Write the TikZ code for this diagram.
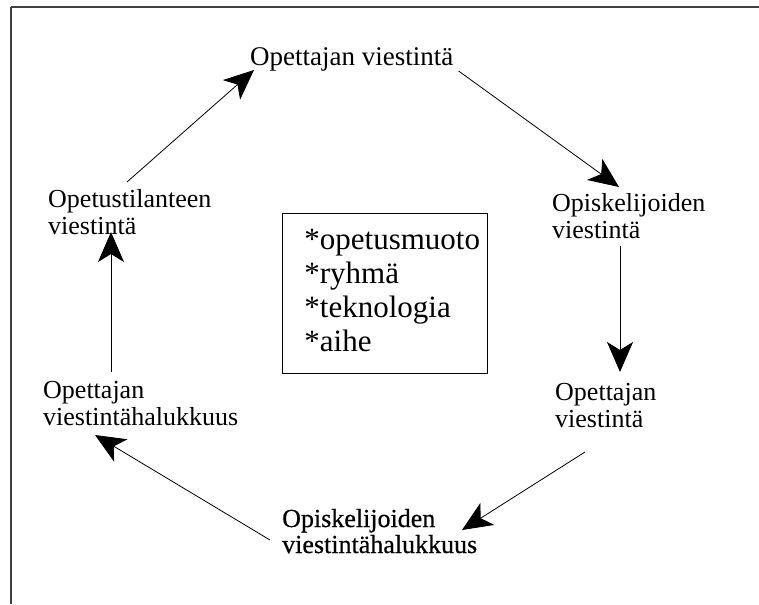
\documentclass[tikz,border=0pt]{standalone}
\usepackage{fontspec}
\setmainfont{Liberation Serif}
\newfontfamily\heavyserif[FakeBold=0.6]{Liberation Serif}
\usetikzlibrary{arrows.meta,calc}

\tikzset{
  lbl/.style={anchor=base west, inner sep=0pt, font=\fontsize{26}{27}\selectfont},
  conn/.style={line width=0.8pt, -{Stealth[length=30pt,width=26pt,inset=8pt]}},
  frameline/.style={line width=2pt, draw=black!75},
  listbox/.style={draw, line width=0.8pt, anchor=north west, inner xsep=0pt, inner ysep=12pt,
                  font=\fontsize{31}{34}\selectfont},
}
\newcommand{\twolines}[2]{\begin{tabular}[t]{@{}l@{}}#1\\#2\end{tabular}}

\begin{document}
\begin{tikzpicture}[x=1pt, y=-1pt]
  \useasboundingbox (0,0) rectangle (759,604);

  % open frame: top and left edges only
  \draw[frameline] (11,7) -- (759,7);
  \draw[frameline] (11,7) -- (11,604);

  % cycle labels
  \node[lbl, font=\fontsize{27}{28}\selectfont] (top) at (250,66) {Opettajan viestintä};
  \node[lbl] (stuA) at (552,211) {\twolines{Opiskelijoiden}{viestintä}};
  \node[lbl] (teaB) at (555,400) {\twolines{Opettajan}{viestintä}};
  \node[lbl, font=\fontsize{26}{26}\heavyserif] (stuW) at (282,527) {\twolines{Opiskelijoiden}{viestintähalukkuus}};
  \node[lbl] (teaW) at (43,398) {\twolines{Opettajan}{viestintähalukkuus}};
  \node[lbl] (situ) at (48,207) {\twolines{Opetustilanteen}{viestintä}};

  % central list of factors
  \node[listbox] (factors) at (282,213)
    {\begin{tabular}[t]{@{\hspace{22pt}}l@{\hspace{7pt}}}*opetusmuoto\\{}*ryhmä\\{}*teknologia\\{}*aihe\end{tabular}};

  % connectors around the cycle
  \draw[conn] ($(situ.base west)+(79,-25)$) -- ($(top.base west)+(4,4)$);
  \draw[conn] ($(top.base east)+(5,5)$) -- ($(stuA.base west)+(67,-24)$);
  \draw[conn] ($(stuA.base west)+(68,35)$) -- ($(teaB.base west)+(65,-28)$);
  \draw[conn] ($(teaB.base west)+(30,52)$) -- ($(stuW.base west)+(180,3)$);
  \draw[conn] ($(stuW.base west)+(-12,13)$) -- ($(teaW.base west)+(52,37)$);
  \draw[conn] ($(teaW.base west)+(68,-26)$) -- ($(situ.base west)+(63,25)$);
\end{tikzpicture}
\end{document}
